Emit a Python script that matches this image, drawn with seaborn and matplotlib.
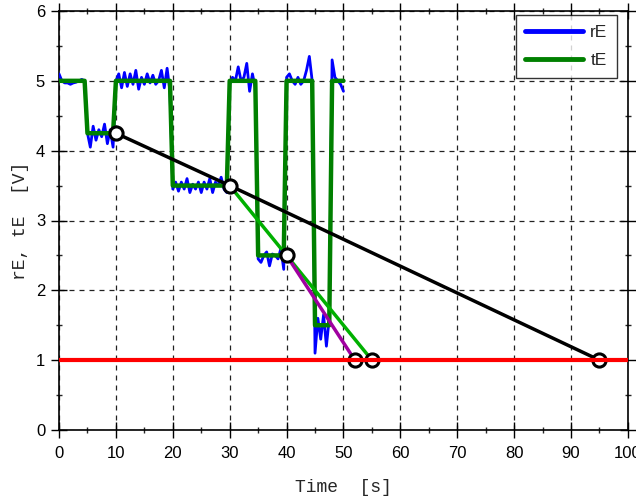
import numpy as np
import pandas as pd
import matplotlib
matplotlib.use("Agg")
import matplotlib.pyplot as plt
import seaborn as sns

# tE: step reference signal (breakpoints)
tE_time = [0, 4.5, 5, 9.5, 10, 19.5, 20, 29.5, 30, 34.5, 35, 39.5, 40, 44.5, 45, 47.5, 48, 50]
tE_vals = [5, 5, 4.25, 4.25, 5, 5, 3.5, 3.5, 5, 5, 2.5, 2.5, 5, 5, 1.5, 1.5, 5, 5]

# rE: noisy measured signal, sampled every 0.5 s from 0 to 50
rE_time = [i * 0.5 for i in range(101)]
rE_vals = [
    5.1, 5.0, 4.97, 4.97, 4.95, 4.97, 4.98, 5.0, 5.02, 5.0,
    4.25, 4.05, 4.35, 4.15, 4.3, 4.2, 4.38, 4.1, 4.3, 4.05,
    5.0, 5.1, 4.9, 5.12, 4.92, 5.1, 4.95, 5.15, 4.88, 5.05,
    4.95, 5.1, 4.97, 5.08, 4.95, 5.0, 5.15, 4.9, 5.18, 4.85,
    3.45, 3.55, 3.42, 3.55, 3.45, 3.6, 3.4, 3.52, 3.45, 3.55,
    3.4, 3.55, 3.45, 3.6, 3.4, 3.55, 3.5, 3.62, 3.45, 3.4,
    4.95, 5.05, 5.0, 5.2, 5.0, 5.05, 5.25, 4.85, 5.1, 4.9,
    2.45, 2.4, 2.5, 2.55, 2.35, 2.52, 2.5, 2.45, 2.6, 2.3,
    5.05, 5.1, 5.0, 4.95, 5.05, 4.95, 5.0, 5.15, 5.35, 5.0,
    1.1, 1.6, 1.3, 1.65, 1.2, 1.6,
    5.3, 5.05, 5.0, 4.95, 4.85,
]

# prediction lines
black_t = [10, 30, 95]
black_v = [4.25, 3.5, 1.0]
green_t = [30, 40, 55]
green_v = [3.5, 2.5, 1.0]
magenta_t = [40, 52]
magenta_v = [2.5, 1.0]
marker_t = [10, 30, 40, 52, 55, 95]
marker_v = [4.25, 3.5, 2.5, 1.0, 1.0, 1.0]
threshold = 1.0

sns.set_style("ticks")
plt.rcParams["font.family"] = ["Liberation Sans", "DejaVu Sans"]

fig = plt.figure(figsize=(6.36, 5.0), dpi=100)
ax = fig.add_axes([0.0928, 0.14, 0.8945, 0.838])

df_r = pd.DataFrame({"t": rE_time, "v": rE_vals})
df_t = pd.DataFrame({"t": tE_time, "v": tE_vals})

sns.lineplot(data=df_r, x="t", y="v", ax=ax, color="#0000ff", lw=2.0,
             estimator=None, sort=False, label="rE", zorder=3)
sns.lineplot(data=df_t, x="t", y="v", ax=ax, color="#008000", lw=3.2,
             estimator=None, sort=False, label="tE", zorder=4)

sns.lineplot(x=black_t, y=black_v, ax=ax, color="black", lw=2.5,
             estimator=None, sort=False, zorder=5)
sns.lineplot(x=green_t, y=green_v, ax=ax, color="#00b000", lw=2.5,
             estimator=None, sort=False, zorder=5)
sns.lineplot(x=magenta_t, y=magenta_v, ax=ax, color="#a000a0", lw=2.5,
             estimator=None, sort=False, zorder=6)
sns.scatterplot(x=marker_t, y=marker_v, ax=ax, s=90, facecolor="white",
                edgecolor="black", linewidth=2.2, zorder=7)
ax.axhline(threshold, color="#ff0000", lw=3, zorder=8)

ax.set_xlim(0, 100)
ax.set_ylim(0, 6)
ax.set_xticks(np.arange(0, 101, 10))
ax.set_yticks(np.arange(0, 7, 1))
ax.set_xticks(np.arange(0, 101, 5), minor=True)
ax.set_yticks(np.arange(0, 6.01, 0.5), minor=True)
ax.tick_params(which="major", direction="inout", length=12, width=1,
               top=True, right=True, labelsize=12, colors="black")
ax.tick_params(which="minor", direction="inout", length=5, width=1,
               top=True, right=True)
ax.tick_params(axis="x", which="major", pad=5.5)
ax.tick_params(axis="y", which="major", pad=4)
for s in ax.spines.values():
    s.set_color("black")
    s.set_linewidth(1.2)

ax.grid(True, which="major", color="#222222", linestyle=(0, (4, 4)), lw=0.9)
ax.set_axisbelow(True)

ax.set_xlabel("Time  [s]", family="Liberation Mono", fontsize=13)
ax.set_ylabel("rE, tE  [V]", family="Liberation Mono", fontsize=13)
ax.xaxis.set_label_coords(0.5, -0.118)
ax.yaxis.set_label_coords(-0.0685, 0.5)
ax.xaxis.label.set_va("top")
ax.yaxis.label.set_va("center")

leg = ax.legend(loc="upper right", fontsize=12.5, frameon=True, fancybox=False,
                handlelength=3.3, handletextpad=0.45, borderpad=0.55,
                labelspacing=0.75, borderaxespad=0.0,
                bbox_to_anchor=(0.981, 0.990))
leg.get_frame().set_edgecolor("black")
leg.get_frame().set_linewidth(1.0)
for h in leg.get_lines():
    h.set_linewidth(3.5)

fig.savefig("out.png", dpi=100)
